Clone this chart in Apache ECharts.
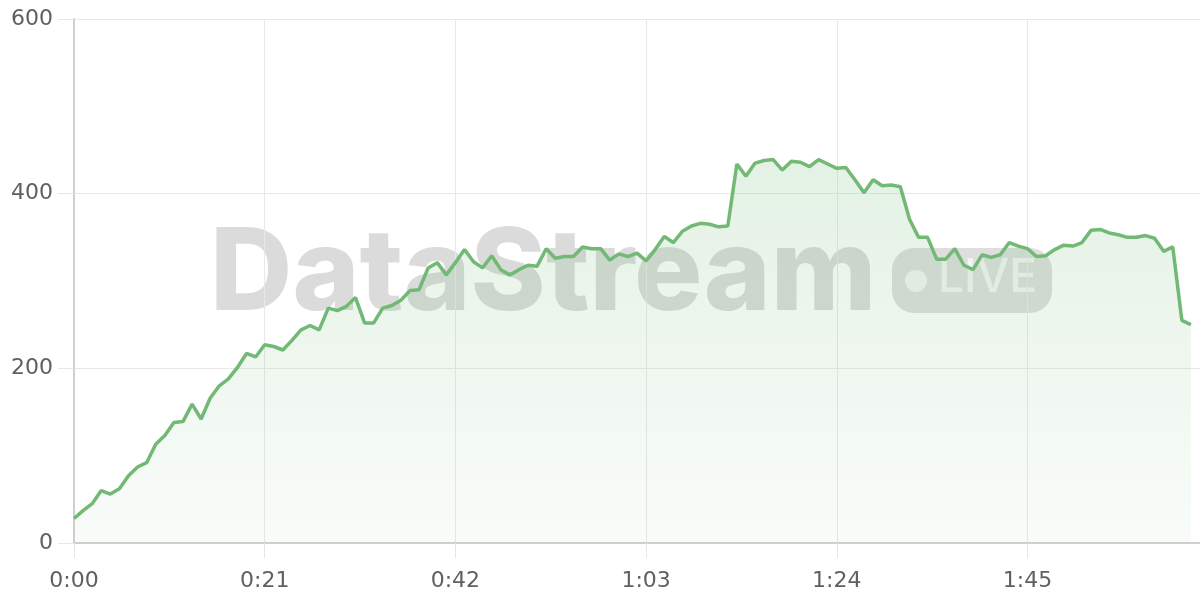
<!DOCTYPE html>
<html>
<head>
<meta charset="utf-8">
<script src="https://cdn.jsdelivr.net/npm/echarts@6/dist/echarts.min.js"></script>
<style>
html,body{margin:0;padding:0;background:#fff;}
#chart{width:1200px;height:600px;}
</style>
</head>
<body>
<div id="chart"></div>
<script>
// Values sampled once per second (x = seconds since start)
const values = [
  28,37,45,60,56,62,77,87,92,113,
  123,138,139,159,142,166,180,188,201,217,
  213,227,225,221,232,244,249,244,269,266,
  271,281,252,252,269,272,278,289,290,315,
  321,307,321,336,322,315,329,313,307,313,
  318,317,337,326,328,328,339,337,337,324,
  331,328,332,323,336,351,344,357,363,366,
  365,362,363,434,420,435,438,439,427,437,
  436,431,439,434,429,430,416,401,416,409,
  410,408,371,350,350,325,325,337,318,313,
  330,327,330,344,340,337,328,329,336,341,
  340,344,358,359,355,353,350,350,352,349,
  334,339,255,250
];
const xMin = 0, xMax = 124, xInterval = 21;
const yMin = 0, yMax = 600, yInterval = 200;
const watermarkTitle = 'DataStream';
const watermarkBadge = 'LIVE';

function fmtTime(s) {
  const m = Math.floor(s / 60);
  const sec = Math.round(s % 60);
  return m + ':' + (sec < 10 ? '0' : '') + sec;
}

const chart = echarts.init(document.getElementById('chart'), null, {renderer: 'canvas'});
const labelFont = '"DejaVu Sans", sans-serif';
chart.setOption({
  animation: false,
  grid: {left: 74, right: 0, top: 19, bottom: 57, containLabel: false},
  xAxis: {
    type: 'value', min: xMin, max: xMax, interval: xInterval,
    axisLine: {show: true, lineStyle: {color: '#cfcfcf', width: 2}},
    axisTick: {show: true, length: 15, lineStyle: {color: '#e6e6e6', width: 1}},
    splitLine: {show: true, lineStyle: {color: '#e8e8e8', width: 1}},
    axisLabel: {
      color: '#606060', fontSize: 22, fontFamily: labelFont, margin: 27,
      showMaxLabel: false,
      formatter: v => fmtTime(v)
    }
  },
  yAxis: {
    type: 'value', min: yMin, max: yMax, interval: yInterval,
    axisLine: {show: true, lineStyle: {color: '#cfcfcf', width: 2}},
    axisTick: {show: true, length: 16, lineStyle: {color: '#e6e6e6', width: 1}},
    splitLine: {show: true, lineStyle: {color: '#e8e8e8', width: 1}},
    axisLabel: {color: '#606060', fontSize: 22, fontFamily: labelFont, margin: 21,
      verticalAlign: 'middle', padding: [7, 0, 0, 0]}
  },
  graphic: [
    {
      type: 'text', z: -10, left: 210, top: 219,
      style: {
        text: watermarkTitle, fill: 'rgba(0,0,0,0.14)',
        font: '800 114px Inter, "Noto Sans", sans-serif'
      }
    },
    {
      type: 'rect', z: -10, left: 892, top: 248,
      shape: {width: 160, height: 65, r: 22},
      style: {fill: 'rgba(0,0,0,0.13)'}
    },
    {
      type: 'circle', z: -9, shape: {cx: 916, cy: 281, r: 11},
      style: {fill: 'rgba(255,255,255,0.65)'}
    },
    {
      type: 'text', z: -9, left: 938, top: 255,
      style: {
        text: watermarkBadge, fill: 'rgba(255,255,255,0.65)',
        font: '500 46px Inter, "Noto Sans", sans-serif'
      }
    }
  ],
  series: [{
    type: 'line',
    data: values.map((v, i) => [i, v]),
    showSymbol: false,
    smooth: false,
    lineStyle: {color: '#72b975', width: 3.5},
    itemStyle: {color: '#72b975'},
    areaStyle: {
      color: new echarts.graphic.LinearGradient(0, 0, 0, 1, [
        {offset: 0, color: 'rgba(114,185,117,0.28)'},
        {offset: 1, color: 'rgba(114,185,117,0.06)'}
      ])
    }
  }]
});
</script>
</body>
</html>
